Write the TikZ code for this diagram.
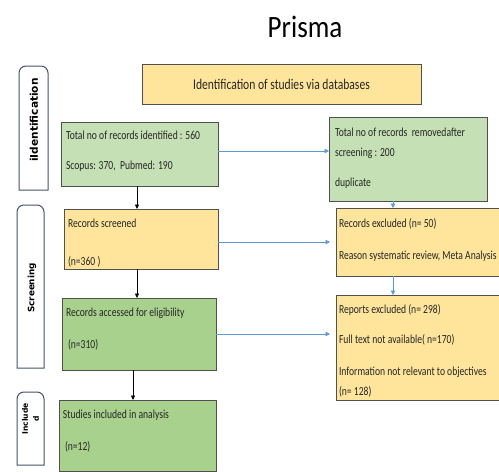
\documentclass[tikz,border=0pt]{standalone}
\usepackage{fontspec}
\setmainfont{Carlito}
\newfontfamily\sidefont{DejaVu Sans}
\usetikzlibrary{arrows.meta}
\definecolor{yel}{HTML}{FFE59B}
\definecolor{grnL}{HTML}{C5E0B4}
\definecolor{grnD}{HTML}{A9D18E}
\definecolor{bordc}{HTML}{505050}
\definecolor{sidec}{HTML}{44546A}
\definecolor{arrowblue}{HTML}{5B9BD5}
\definecolor{txtc}{HTML}{262626}
\newcommand\vstr[1]{\scalebox{1}[1.28]{#1}}
\tikzset{
  box/.style={draw=bordc, line width=1pt, inner sep=0pt, outer sep=0pt, anchor=north west},
  txt/.style={anchor=base west, inner sep=0pt, outer sep=0pt, text=txtc, font=\fontsize{9.6}{11}\selectfont},
  blk/.style={-{Triangle[length=4.5pt,width=4pt]}, line width=0.7pt, black},
  blu/.style={-{Triangle[length=4.5pt,width=4.5pt]}, line width=0.8pt, arrowblue},
  sidebox/.style={inner sep=0pt, outer sep=0pt},
  sideborder/.style={draw=sidec, line width=1pt},
  sidetxt/.style={rotate=90, inner sep=0pt, outer sep=0pt, text=black, align=center}
}
\begin{document}
\begin{tikzpicture}[x=1pt,y=-1pt]
\useasboundingbox (0,0) rectangle (499,472);
\fill[white] (0,0) rectangle (499,472);
\begin{scope}
\clip (0,0) rectangle (499,472);

% title
\node[anchor=base, inner sep=0pt, text=black, font=\fontsize{27}{30}\selectfont] (title) at (305,37) {\scalebox{1}[1.15]{Prisma}};

% top box
\node[box, fill=yel, minimum width=279pt, minimum height=40pt, anchor=center,
      font=\fontsize{11.6}{13}\selectfont, text=txtc] (T) at (281.5,84) {\vstr{Identification of studies via databases}};

% side label boxes
\node[sidebox, minimum width=29pt, minimum height=124pt] (S1) at (33.5,128) {};
\draw[sideborder] (S1.south west) [rounded corners=7pt] -- (S1.north west) -- (S1.north east) [sharp corners] -- (S1.south east) -- cycle;
\node[sidetxt, font=\sidefont\bfseries\fontsize{10.6}{12}\selectfont] (s1t) at (34,120) {iIdentification};

\node[sidebox, minimum width=27pt, minimum height=163pt] (S2) at (30.5,286.5) {};
\draw[sideborder] (S2.south west) [rounded corners=7pt] -- (S2.north west) -- (S2.north east) [sharp corners] -- (S2.south east) -- cycle;
\node[sidetxt, font=\sidefont\bfseries\fontsize{8.8}{10}\selectfont] (s2t) at (32,288) {Screening};

\node[sidebox, minimum width=27pt, minimum height=73pt] (S3) at (30.5,428.5) {};
\draw[sideborder] (S3.south west) [rounded corners=7pt] -- (S3.north west) -- (S3.north east) [sharp corners] -- (S3.south east) -- cycle;
\node[sidetxt, font=\sidefont\bfseries\fontsize{7.6}{11}\selectfont] (s3t) at (30.5,419) {Include\\d};

% main boxes
\node[box, fill=grnL, minimum width=157pt, minimum height=64pt] (A) at (61,122) {};
\node[box, fill=grnL, minimum width=158pt, minimum height=84pt] (B) at (329,117) {};
\node[box, fill=yel,  minimum width=154pt, minimum height=60pt] (C) at (64,209) {};
\node[box, fill=yel,  minimum width=184pt, minimum height=68pt] (D) at (336,208) {};
\node[box, fill=grnD, minimum width=154pt, minimum height=72pt] (E) at (62,298) {};
\node[box, fill=yel,  minimum width=184pt, minimum height=105pt] (F) at (336,295) {};
\node[box, fill=grnD, minimum width=157pt, minimum height=71pt] (G) at (59,400) {};

% texts
\node[txt] (a1) at (66,139) {\vstr{Total no of records identified : 560}};
\node[txt] (a2) at (66,169) {\vstr{Scopus: 370,\ \ Pubmed: 190}};
\node[txt] (b1) at (335,136) {\vstr{Total no of records\ \ removedafter}};
\node[txt] (b2) at (335,156) {\vstr{screening : 200}};
\node[txt] (b3) at (335,186) {\vstr{duplicate}};
\node[txt] (c1) at (68,227) {\vstr{Records screened}};
\node[txt] (c2) at (68,265) {\vstr{(n=360 )}};
\node[txt] (d1) at (339,227) {\vstr{Records excluded (n= 50)}};
\node[txt] (d2) at (339,259) {\vstr{Reason systematic review, Meta Analysis}};
\node[txt] (e1) at (66,316) {\vstr{Records accessed for eligibility}};
\node[txt] (e2) at (68,348) {\vstr{(n=310)}};
\node[txt] (f1) at (339,313) {\vstr{Reports excluded (n= 298)}};
\node[txt] (f2) at (339,343) {\vstr{Full text not available( n=170)}};
\node[txt] (f3) at (339,375) {\vstr{Information not relevant to objectives}};
\node[txt] (f4) at (339,395) {\vstr{(n= 128)}};
\node[txt] (g1) at (63,418) {\vstr{Studies included in analysis}};
\node[txt] (g2) at (65,450) {\vstr{(n=12)}};

% black arrows
\draw[blk] ([xshift=76pt]A.south west) -- ([xshift=73pt]C.north west);
\draw[blk] ([xshift=73pt]C.south west) -- ([xshift=75pt]E.north west);
\draw[blk] ([xshift=71pt]E.south west) -- ([xshift=74pt]G.north west);

% blue arrows
\draw[blu] ([yshift=-29pt]A.north east) -- ([yshift=-34pt]B.north west);
\draw[blu] ([yshift=-33pt]C.north east) -- ([yshift=-34pt,xshift=-6pt]D.north west);
\draw[blu] ([yshift=-36pt]E.north east) -- ([yshift=-39pt,xshift=-6pt]F.north west);
\draw[blu] ([xshift=64pt]B.south west) -- ([xshift=57pt]D.north west);
\draw[blu] ([xshift=57pt]D.south west) -- ([xshift=57pt]F.north west);
\end{scope}
\end{tikzpicture}
\end{document}
